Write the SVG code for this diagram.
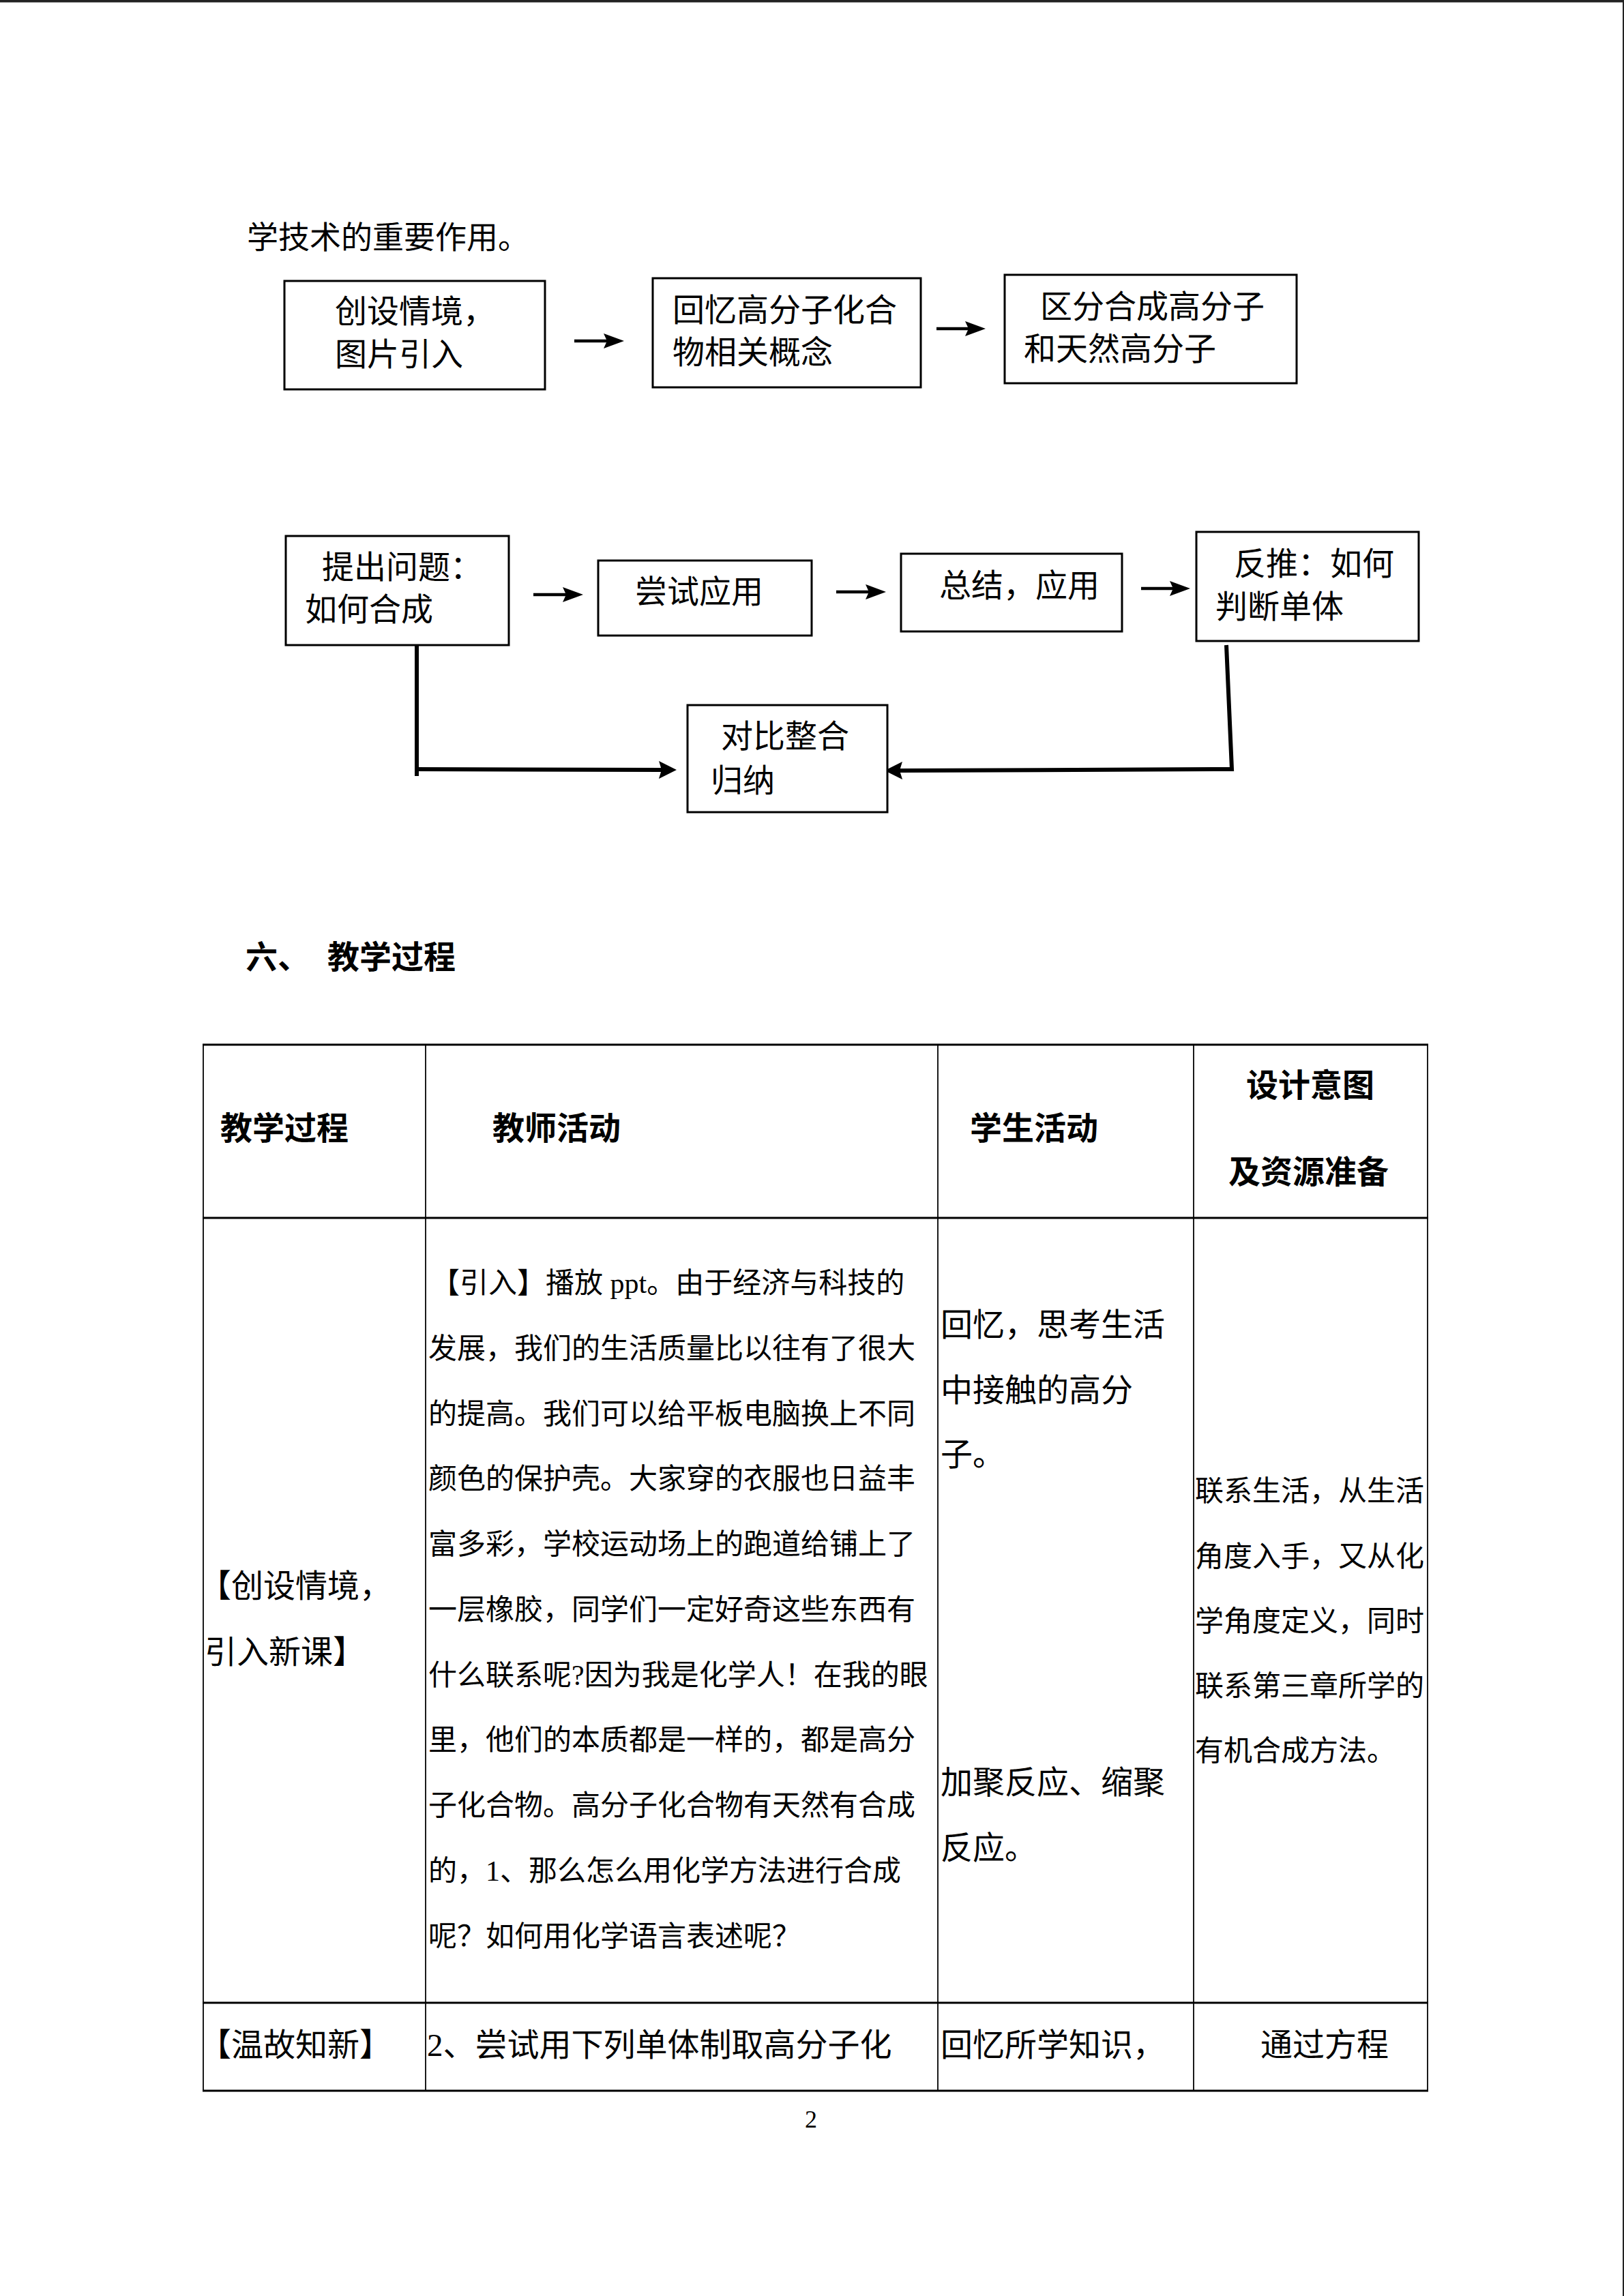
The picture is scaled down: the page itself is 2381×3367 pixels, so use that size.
<svg xmlns="http://www.w3.org/2000/svg" width="2381" height="3367" viewBox="0 0 2381 3367">
<defs>
<style>
text{font-family:"Liberation Serif","Noto Sans CJK SC",serif;fill:#000;}
.t46{font-size:46px;}
.t47{font-size:47px;}
.t42{font-size:42px;}
.b{font-weight:bold;font-family:"Noto Sans CJK SC",sans-serif;}
.box{fill:#fff;stroke:#000;stroke-width:3;}
.arr{fill:none;stroke:#000;stroke-width:4.5;}
.conn{fill:none;stroke:#000;stroke-width:6;stroke-linejoin:miter;}
.tl{stroke:#000;stroke-width:3;}
.tv{stroke:#000;stroke-width:1.8;}
</style>
<marker id="ah" markerUnits="userSpaceOnUse" markerWidth="30" markerHeight="22" refX="5" refY="11" orient="auto">
<path d="M0,0 L30,11 L0,22 L5,11 z" fill="#000"/>
</marker>
<marker id="ahb" markerUnits="userSpaceOnUse" markerWidth="26" markerHeight="26" refX="4" refY="13" orient="auto">
<path d="M0,0 L26,13 L0,26 L4,13 z" fill="#000"/>
</marker>
</defs>
<rect x="0" y="0" width="2381" height="3367" fill="#fff"/>
<rect x="0" y="0" width="2381" height="3.5" fill="#222"/>
<rect x="2379" y="0" width="2" height="3367" fill="#222"/>

<text class="t46" x="362" y="364">学技术的重要作用。</text>

<g id="connectors">
<line class="arr" x1="842" y1="500" x2="890" y2="500" marker-end="url(#ah)"/>
<line class="arr" x1="1373" y1="482" x2="1420" y2="482" marker-end="url(#ah)"/>
<line class="arr" x1="782" y1="872" x2="830" y2="872" marker-end="url(#ah)"/>
<line class="arr" x1="1226" y1="868" x2="1274" y2="868" marker-end="url(#ah)"/>
<line class="arr" x1="1673" y1="863" x2="1720" y2="863" marker-end="url(#ah)"/>
<line class="conn" x1="611" y1="941" x2="611" y2="1138"/>
<line class="conn" x1="608" y1="1128" x2="970" y2="1129" marker-end="url(#ahb)"/>
<path class="conn" d="M1798,946 L1806,1128 L1319,1130" marker-end="url(#ahb)"/>
</g>

<g id="n1"><rect class="box" x="417" y="412" width="382" height="159"/>
<text class="t47" x="491" y="473">创设情境，</text><text class="t47" x="491" y="536">图片引入</text></g>
<g id="n2"><rect class="box" x="957" y="408" width="393" height="160"/>
<text class="t47" x="986" y="471">回忆高分子化合</text><text class="t47" x="986" y="533">物相关概念</text></g>
<g id="n3"><rect class="box" x="1473" y="403" width="428" height="159"/>
<text class="t47" x="1525" y="466">区分合成高分子</text><text class="t47" x="1501" y="528">和天然高分子</text></g>
<g id="n4"><rect class="box" x="419" y="786" width="327" height="160"/>
<text class="t47" x="472" y="848">提出问题：</text><text class="t47" x="447" y="910">如何合成</text></g>
<g id="n5"><rect class="box" x="877" y="822" width="313" height="110"/>
<text class="t47" x="931" y="884">尝试应用</text></g>
<g id="n6"><rect class="box" x="1321" y="812" width="324" height="114"/>
<text class="t47" x="1377" y="875">总结，应用</text></g>
<g id="n7"><rect class="box" x="1754" y="780" width="326" height="160"/>
<text class="t47" x="1809" y="843">反推：如何</text><text class="t47" x="1782" y="906">判断单体</text></g>
<g id="n8"><rect class="box" x="1008" y="1034" width="293" height="157"/>
<text class="t47" x="1057" y="1096">对比整合</text><text class="t47" x="1042" y="1161">归纳</text></g>

<text class="t47 b" x="360" y="1420">六、</text>
<text class="t47 b" x="480" y="1420">教学过程</text>

<g id="table">
<line class="tl" x1="297" y1="1532" x2="2094" y2="1532"/>
<line class="tl" x1="297" y1="1786" x2="2094" y2="1786"/>
<line class="tl" x1="297" y1="2937" x2="2094" y2="2937"/>
<line class="tl" x1="297" y1="3066" x2="2094" y2="3066"/>
<line class="tv" x1="298" y1="1532" x2="298" y2="3066"/>
<line class="tv" x1="624" y1="1532" x2="624" y2="3066"/>
<line class="tv" x1="1375" y1="1532" x2="1375" y2="3066"/>
<line class="tv" x1="1750" y1="1532" x2="1750" y2="3066"/>
<line class="tv" x1="2093" y1="1532" x2="2093" y2="3066"/>

<text class="t47 b" x="323" y="1671">教学过程</text>
<text class="t47 b" x="722" y="1671">教师活动</text>
<text class="t47 b" x="1422" y="1671">学生活动</text>
<text class="t47 b" x="1827" y="1608">设计意图</text>
<text class="t47 b" x="1801" y="1735">及资源准备</text>

<text class="t47" x="292" y="2342">【创设情境，</text>
<text class="t47" x="300" y="2439">引入新课】</text>

<g class="t42">
<text x="632" y="1896">【引入】播放 ppt。由于经济与科技的</text>
<text x="628" y="1992">发展，我们的生活质量比以往有了很大</text>
<text x="628" y="2088">的提高。我们可以给平板电脑换上不同</text>
<text x="628" y="2183">颜色的保护壳。大家穿的衣服也日益丰</text>
<text x="628" y="2279">富多彩，学校运动场上的跑道给铺上了</text>
<text x="628" y="2375">一层橡胶，同学们一定好奇这些东西有</text>
<text x="628" y="2471">什么联系呢?因为我是化学人！在我的眼</text>
<text x="628" y="2566">里，他们的本质都是一样的，都是高分</text>
<text x="628" y="2662">子化合物。高分子化合物有天然有合成</text>
<text x="628" y="2758">的，1、那么怎么用化学方法进行合成</text>
<text x="628" y="2854">呢？如何用化学语言表述呢？</text>
</g>

<g class="t47">
<text x="1379" y="1959">回忆，思考生活</text>
<text x="1379" y="2055">中接触的高分</text>
<text x="1379" y="2149">子。</text>
<text x="1379" y="2630">加聚反应、缩聚</text>
<text x="1379" y="2726">反应。</text>
</g>

<g class="t42">
<text x="1752" y="2201">联系生活，从生活</text>
<text x="1752" y="2297">角度入手，又从化</text>
<text x="1752" y="2392">学角度定义，同时</text>
<text x="1752" y="2487">联系第三章所学的</text>
<text x="1752" y="2582">有机合成方法。</text>
</g>

<g class="t47">
<text x="292" y="3015">【温故知新】</text>
<text x="626" y="3015">2、尝试用下列单体制取高分子化</text>
<text x="1379" y="3015">回忆所学知识，</text>
<text x="1848" y="3015">通过方程</text>
</g>
</g>

<text x="1189" y="3120" style="font-size:36px" text-anchor="middle">2</text>
</svg>
